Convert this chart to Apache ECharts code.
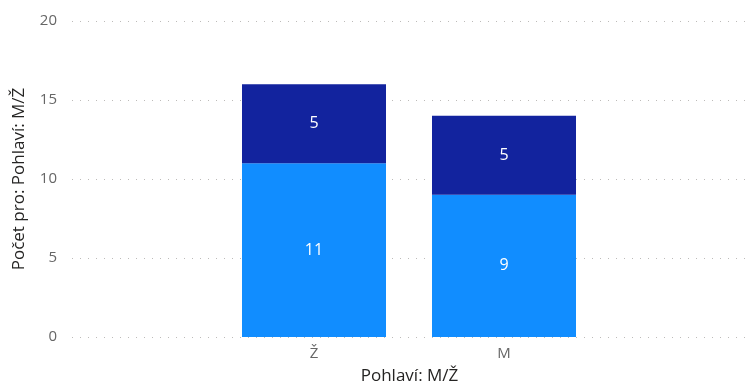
<!DOCTYPE html>
<html>
<head>
<meta charset="utf-8">
<script src="https://cdn.jsdelivr.net/npm/echarts@6/dist/echarts.min.js"></script>
<style>
  html, body { margin: 0; padding: 0; background: #fff; }
  #chart { width: 747px; height: 387px; }
</style>
</head>
<body>
<div id="chart"></div>
<script>
// Counts by gender, stacked in two groups
const categories = ['Ž', 'M'];
const lowerValues = [11, 9];
const upperValues = [5, 5];
const yTicks = [0, 5, 10, 15, 20];

const FONT = '"Segoe UI", "Open Sans", "Noto Sans", sans-serif';
const chart = echarts.init(document.getElementById('chart'));

const yMin = yTicks[0];
const yMax = yTicks[yTicks.length - 1];
const yStep = yTicks[1] - yTicks[0];

chart.setOption({
  animation: false,
  grid: [
    { left: 72, right: 0, top: 21, bottom: 50, outerBoundsMode: 'none', containLabel: false },
    { left: 219, right: 148, top: 21, bottom: 50, outerBoundsMode: 'none', containLabel: false }
  ],
  xAxis: [
    {
      gridIndex: 0, type: 'value', min: 0, max: 1,
      name: 'Pohlaví: M/Ž', nameLocation: 'middle', nameGap: 31,
      nameTextStyle: { fontFamily: FONT, fontSize: 17, color: '#252423' },
      axisLine: { show: false }, axisTick: { show: false },
      axisLabel: { show: false }, splitLine: { show: false }
    },
    {
      gridIndex: 1, type: 'category', data: categories,
      axisLine: { show: false }, axisTick: { show: false },
      axisLabel: { fontFamily: FONT, fontSize: 15, color: '#666666', margin: 9 }
    }
  ],
  yAxis: [
    {
      gridIndex: 0, type: 'value', min: yMin, max: yMax, interval: yStep,
      name: 'Počet pro: Pohlaví: M/Ž', nameLocation: 'middle', nameGap: 44,
      nameTextStyle: { fontFamily: FONT, fontSize: 17, color: '#252423' },
      axisLine: { show: false }, axisTick: { show: false },
      axisLabel: { fontFamily: FONT, fontSize: 15, color: '#666666', margin: 15 },
      splitLine: { show: true, lineStyle: { color: '#bdbbb9', type: [1, 7], width: 1 } }
    },
    {
      gridIndex: 1, type: 'value', min: yMin, max: yMax, interval: yStep,
      show: false, splitLine: { show: false }
    }
  ],
  series: [
    {
      name: 'Dolní', type: 'bar', stack: 'total', xAxisIndex: 1, yAxisIndex: 1,
      data: lowerValues, barWidth: 144,
      itemStyle: { color: '#118DFF' },
      label: { show: true, position: 'inside', color: '#fff', fontFamily: FONT, fontSize: 16 }
    },
    {
      name: 'Horní', type: 'bar', stack: 'total', xAxisIndex: 1, yAxisIndex: 1,
      data: upperValues, barWidth: 144,
      itemStyle: { color: '#12239E' },
      label: { show: true, position: 'inside', color: '#fff', fontFamily: FONT, fontSize: 16 }
    }
  ]
});
</script>
</body>
</html>
